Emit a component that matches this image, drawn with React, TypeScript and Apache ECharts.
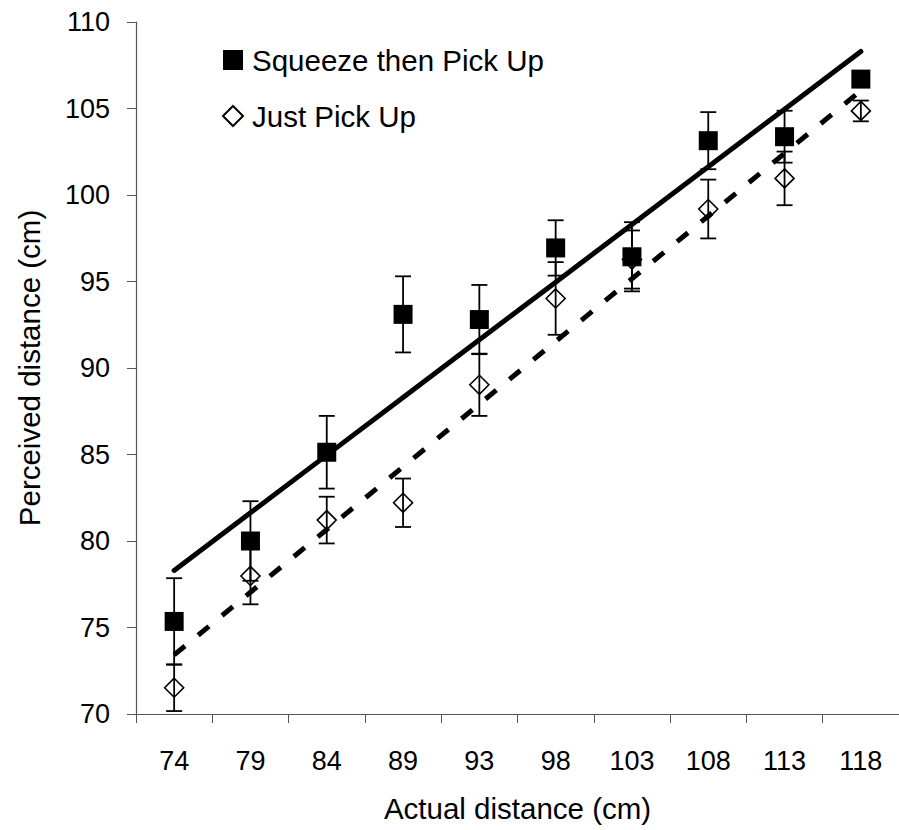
import React, { useEffect, useRef } from "react";
import * as echarts from "echarts";

const categories = ["74", "79", "84", "89", "93", "98", "103", "108", "113", "118"];
const squeezeMean = [75.35, 80.0, 85.13, 93.1, 92.8, 96.94, 96.43, 103.14, 103.37, 106.7];
const squeezeErr = [2.5, 2.3, 2.1, 2.2, 2.0, 1.6, 2.0, 1.65, 1.5, 0.45];
const pickMean = [71.52, 77.98, 81.21, 82.21, 89.03, 94.02, 96.27, 99.19, 100.96, 104.86];
const pickErr = [1.35, 1.64, 1.35, 1.4, 1.8, 2.1, 1.68, 1.7, 1.55, 0.6];

const SQ = "Squeeze then Pick Up";
const JP = "Just Pick Up";
const FONT = "'Liberation Sans', Arial, sans-serif";

function fitLine(vals: number[]): number[] {
  const n = vals.length;
  const mx = (n - 1) / 2;
  const my = vals.reduce((s, v) => s + v, 0) / n;
  let sxy = 0;
  let sxx = 0;
  vals.forEach((v, i) => {
    sxy += (i - mx) * (v - my);
    sxx += (i - mx) * (i - mx);
  });
  const b = sxy / sxx;
  const a = my - b * mx;
  return vals.map((_, i) => a + b * i);
}

function errData(mean: number[], err: number[]) {
  return mean.map((m, i) => [i, m - err[i], m + err[i]]);
}

function errorBarRender(params: any, api: any) {
  const x = api.value(0);
  const lo = api.coord([x, api.value(1)]);
  const hi = api.coord([x, api.value(2)]);
  const hw = 8;
  const style = { stroke: "#000", lineWidth: 1.8, fill: null };
  return {
    type: "group",
    children: [
      { type: "line", shape: { x1: hi[0], y1: hi[1], x2: lo[0], y2: lo[1] }, style },
      { type: "line", shape: { x1: hi[0] - hw, y1: hi[1], x2: hi[0] + hw, y2: hi[1] }, style },
      { type: "line", shape: { x1: lo[0] - hw, y1: lo[1], x2: lo[0] + hw, y2: lo[1] }, style },
    ],
  };
}

export default function App() {
  const ref = useRef<HTMLDivElement>(null);
  useEffect(() => {
    document.body.style.margin = "0";
    const chart = echarts.init(ref.current!, null, { renderer: "svg" });
    const axisColor = "#555555";
    chart.setOption({
      animation: false,
      backgroundColor: "#ffffff",
      textStyle: { fontFamily: FONT, color: "#000" },
      grid: { left: 136, top: 22, bottom: 116, width: 766, containLabel: false },
      legend: {
        orient: "vertical",
        left: 222,
        top: 45,
        padding: 0,
        itemWidth: 20,
        itemHeight: 20,
        itemGap: 26,
        data: [
          { name: SQ, icon: "rect" },
          { name: JP, icon: "diamond" },
        ],
        textStyle: { fontFamily: FONT, fontSize: 29.5, color: "#000", padding: [0, 0, 0, 4] },
      },
      xAxis: {
        type: "category",
        data: categories,
        boundaryGap: true,
        name: "Actual distance (cm)",
        nameLocation: "middle",
        nameGap: 79,
        nameTextStyle: { fontFamily: FONT, fontSize: 29.5, color: "#000" },
        axisLine: { show: true, lineStyle: { color: axisColor, width: 1.2 } },
        axisTick: { show: true, length: 9, alignWithLabel: false, lineStyle: { color: axisColor } },
        axisLabel: { fontFamily: FONT, fontSize: 27, color: "#000", margin: 33 },
        splitLine: { show: false },
      },
      yAxis: {
        type: "value",
        min: 70,
        max: 110,
        interval: 5,
        name: "Perceived distance (cm)",
        nameLocation: "middle",
        nameGap: 92,
        nameRotate: 90,
        nameTextStyle: { fontFamily: FONT, fontSize: 29.5, color: "#000" },
        axisLine: { show: true, lineStyle: { color: axisColor, width: 1.2 } },
        axisTick: { show: true, length: 9, lineStyle: { color: axisColor } },
        axisLabel: { fontFamily: FONT, fontSize: 27, color: "#000", margin: 26 },
        splitLine: { show: false },
      },
      series: [
        {
          name: JP,
          type: "scatter",
          symbol: "diamond",
          symbolSize: [19, 19],
          data: pickMean,
          itemStyle: { color: "#fff", borderColor: "#000", borderWidth: 1.6, opacity: 1 },
          z: 2,
        },
        {
          name: SQ,
          type: "scatter",
          symbol: "rect",
          symbolSize: 19,
          data: squeezeMean,
          itemStyle: { color: "#000", borderColor: "#000", borderWidth: 0, opacity: 1 },
          z: 3,
        },
        {
          name: "jpErr",
          type: "custom",
          renderItem: errorBarRender,
          data: errData(pickMean, pickErr),
          encode: { x: 0, y: [1, 2] },
          z: 4,
          silent: true,
        },
        {
          name: "sqErr",
          type: "custom",
          renderItem: errorBarRender,
          data: errData(squeezeMean, squeezeErr),
          encode: { x: 0, y: [1, 2] },
          z: 4,
          silent: true,
        },
        {
          name: "sqTrend",
          type: "line",
          data: fitLine(squeezeMean),
          showSymbol: false,
          symbol: "none",
          lineStyle: { color: "#000", width: 5, type: "solid", cap: "round" },
          z: 5,
          silent: true,
        },
        {
          name: "jpTrend",
          type: "line",
          data: fitLine(pickMean),
          showSymbol: false,
          symbol: "none",
          lineStyle: { color: "#000", width: 5, type: [14, 17], cap: "butt" },
          z: 5,
          silent: true,
        },
      ],
    });
    return () => chart.dispose();
  }, []);
  return <div ref={ref} style={{ width: 899, height: 830 }} />;
}
